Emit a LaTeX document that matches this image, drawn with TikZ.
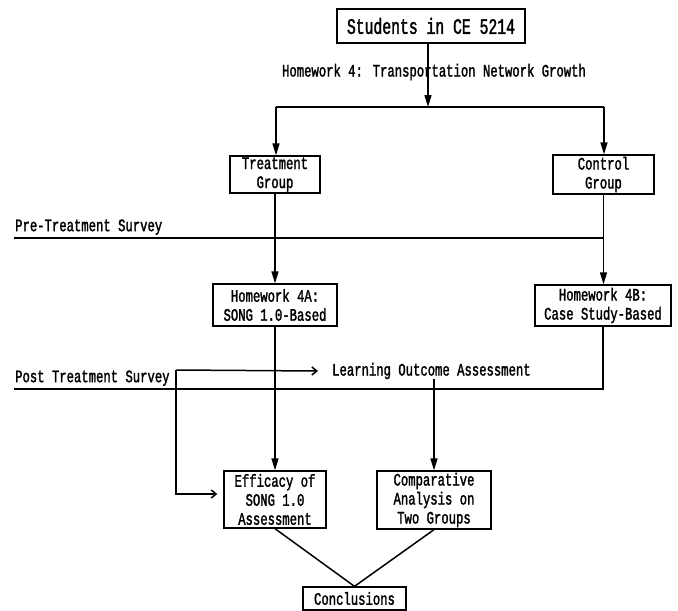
\documentclass[tikz,border=0pt]{standalone}
\usepackage{fontspec}
\setmainfont{Liberation Serif}
\newfontfamily\diagfont[FakeStretch=0.7,FakeBold=1.6]{Liberation Mono}
\newfontfamily\diagbigfont[FakeStretch=0.67,FakeBold=1.6]{Liberation Mono}
\usetikzlibrary{arrows.meta}
\begin{document}
\begin{tikzpicture}[x=1pt,y=-1pt,
  box/.style={draw,line width=1.3pt,inner sep=0pt,align=center,
    font=\diagfont\fontsize{17.5}{19}\selectfont},
  lbl/.style={inner sep=0pt,font=\diagfont\fontsize{17.5}{19}\selectfont},
  ln/.style={line width=1.5pt},
  arr/.style={ln,-{Triangle[length=12pt,width=7pt]}},
  oarr/.style={ln,-{Straight Barb[length=5pt,width=8pt]}}]
\useasboundingbox (0,0) rectangle (678,611);

\node[box,minimum width=188pt,minimum height=34pt,
  font=\diagbigfont\fontsize{22}{24}\selectfont] (stu) at (431,26) {Students in CE 5214};
\node[lbl] (hw) at (434,72) {Homework 4: Transportation Network Growth};
\coordinate (tl) at (276,107);
\coordinate (tr) at (604,107);
\draw[ln] (tl) -- (tr);
\draw[arr] ([xshift=-3pt]stu.south) -- ([xshift=-3pt]stu.south |- tl);

\node[box,minimum width=90pt,minimum height=37pt] (treat) at (275,174.5) {Treatment\\Group};
\node[box,minimum width=101pt,minimum height=39pt] (ctrl) at (603.5,174.5) {Control\\Group};
\draw[arr] (tl) -- (tl |- treat.north);
\draw[arr] (tr) -- (tr |- ctrl.north);

\coordinate (preL) at (14,238);
\draw[ln] (preL) -- (preL -| ctrl.south);
\node[lbl,anchor=south west] (pre) at (15,235) {Pre-Treatment Survey};

\node[box,minimum width=124pt,minimum height=42pt] (hwA) at (275,305) {Homework 4A:\\SONG 1.0-Based};
\node[box,minimum width=136pt,minimum height=41pt] (hwB) at (603,305.5) {Homework 4B:\\Case Study-Based};
\draw[arr] (treat.south) -- (hwA.north);
\draw[arr] (ctrl.south) -- (ctrl.south |- hwB.north);

\node[box,minimum width=102pt,minimum height=57pt] (eff) at (275,499.5) {Efficacy of\\SONG 1.0\\Assessment};
\node[box,minimum width=114pt,minimum height=58pt] (comp) at (434,500) {Comparative\\Analysis on\\Two Groups};
\node[box,minimum width=103pt,minimum height=23pt] (conc) at (354.5,598.5) {Conclusions};

\draw[arr] (hwA.south) -- (eff.north);

\coordinate (postL) at (14,389);
\draw[ln] (hwB.south) |- (postL);
\node[lbl,anchor=south west] (post) at (15,386) {Post Treatment Survey};

\coordinate (fb) at (176,370);
\node[lbl,anchor=west] (loa) at (332,371) {Learning Outcome Assessment};
\draw[oarr] (fb) -- ([xshift=-14pt]loa.west);
\draw[oarr] (fb) |- ([xshift=-6pt,yshift=5.5pt]eff.west);
\draw[arr] (loa.south -| comp.north) -- (comp.north);

\draw[ln] (eff.south) -- (conc.north);
\draw[ln] (comp.south) -- (conc.north);
\end{tikzpicture}
\end{document}
